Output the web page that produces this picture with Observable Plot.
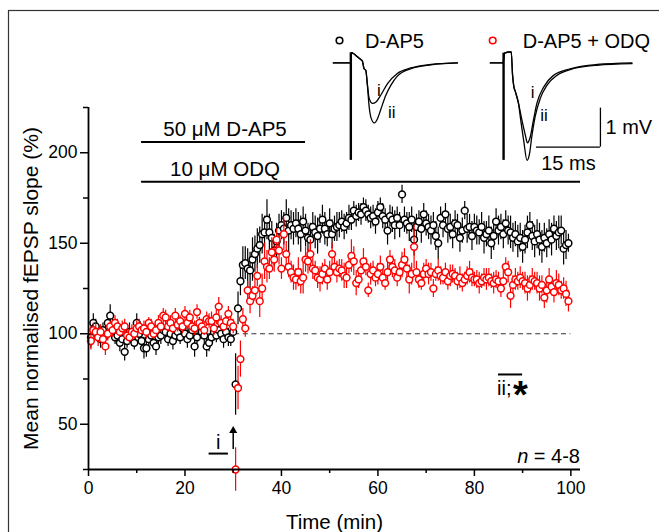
<!DOCTYPE html>
<html><head><meta charset="utf-8">
<script src="https://cdn.jsdelivr.net/npm/d3@7"></script>
<script src="https://cdn.jsdelivr.net/npm/@observablehq/plot@0.6"></script>
<style>
body{margin:0;background:#fff;overflow:hidden;}
#wrap{position:relative;width:659px;height:532px;overflow:hidden;}
#wrap svg{position:absolute;overflow:visible;}
</style></head><body><div id="wrap"></div>
<script>
// ---------- DATA ----------
const firstTime = 0.5, timeStep = 0.5; // min, sampling grid
const blackMean = [
98,106,104,100,97,102,99,106,110,104,
98,99,95,97,90,96,101,98,95,106,
100,96,92,92,97,99,95,93,98,99,
102,101,97,100,96,99,101,98,103,100,
97,99,102,93,98,104,101,99,93,95,
98,101,99,102,100,97,101,98,97,101,
72,114,129,138,139,136,135,141,144,147,
149,155,156,163,156,153,146,151,157,160,
158,164,157,160,158,161,158,155,162,157,
153,152,159,156,154,158,163,158,155,161,
155,158,159,160,162,159,161,164,163,168,
165,167,166,170,168,166,164,165,162,167,
170,165,163,157,165,163,160,164,160,177,
163,161,159,163,152,159,162,158,166,161,
159,157,160,154,150,164,160,166,158,159,
155,161,160,153,157,168,158,159,154,159,
157,156,159,153,155,157,150,154,162,157,
159,155,161,157,156,153,155,151,153,148,
152,156,160,154,151,155,152,148,153,150,
155,152,158,154,156,157,147,149,150];
const blackSem = [
6,5,4,5,5,4,5,4,6,5,
4,5,5,4,5,4,5,5,4,5,
4,5,6,5,4,5,4,5,4,5,
4,5,4,5,5,4,5,4,5,4,
5,4,5,6,4,5,4,5,6,5,
4,5,4,5,4,5,4,5,4,5,
17,9,8,10,9,11,10,12,10,11,
10,11,9,11,10,9,9,10,9,8,
9,10,12,8,9,8,9,10,8,9,
8,9,8,9,10,8,8,9,7,8,
8,7,8,7,6,7,6,7,6,5,
6,5,6,5,6,5,6,6,7,6,
5,7,6,8,6,7,8,6,7,5,
7,6,8,7,9,7,6,8,6,7,
7,8,7,8,9,6,7,6,8,7,
8,7,6,8,7,5,8,7,8,7,
8,7,8,9,7,8,9,8,7,8,
7,8,7,8,9,8,7,9,8,9,
8,9,7,8,9,8,9,9,8,8,
8,9,7,8,9,8,9,8,5];
const redMean = [
96,102,101,98,101,97,93,100,104,102,
106,104,101,103,104,99,98,101,100,103,
104,102,103,101,106,104,100,102,106,104,
110,109,104,106,103,110,105,107,104,111,
106,109,104,103,112,106,104,102,108,107,
107,103,109,115,106,104,107,111,106,104,
25,70,86,108,103,124,118,121,124,132,
118,125,140,137,136,145,141,152,146,136,
155,144,137,134,131,130,134,129,131,141,
140,144,136,135,131,130,133,136,130,134,
144,137,134,136,135,132,131,138,143,140,
128,130,135,140,137,124,133,135,131,133,
137,131,128,134,141,137,135,131,134,138,
141,136,130,133,148,134,130,128,133,136,
133,134,125,133,135,132,131,134,129,132,
133,132,129,131,128,130,132,134,131,130,
130,128,129,131,130,131,129,128,130,129,
125,129,137,134,121,127,130,129,131,129,
128,125,127,130,129,128,125,127,120,124,
130,126,123,128,127,124,125,122,118];
const redSem = [
5,4,4,5,4,4,5,4,3,4,
4,4,3,4,4,3,4,4,3,4,
4,3,4,4,3,4,3,4,4,3,
4,4,3,4,3,4,4,3,4,4,
4,4,3,4,4,3,4,3,4,4,
5,4,4,5,4,3,4,4,3,4,
12,12,10,6,5,5,7,5,6,6,
9,8,10,9,6,8,7,6,8,6,
9,7,6,6,7,6,8,7,9,7,
7,8,6,5,6,7,6,5,6,6,
6,5,6,5,6,7,6,5,9,8,
7,5,6,7,5,4,6,5,5,6,
6,5,4,6,5,6,6,5,4,7,
6,5,8,6,12,6,5,4,6,5,
6,5,5,4,6,5,4,5,5,6,
5,4,5,6,5,4,5,6,5,4,
5,6,4,5,6,5,4,6,5,5,
5,6,5,6,7,5,6,5,6,5,
6,7,5,6,5,6,7,5,6,7,
6,5,6,7,6,5,6,7,6];

const seriesNames = ["D-AP5", "D-AP5 + ODQ"];
const xMajorTicks = [0, 20, 40, 60, 80, 100];
const xMinorTicks = [10, 30, 50, 70, 90];
const yMajorTicks = [50, 100, 150, 200];
const yMinorTicks = [25, 75, 125, 175, 225];
const xLabel = "Time (min)";
const yLabel = "Mean normalised fEPSP slope (%)";

const drugNames = ["50 \u03bcM D-AP5", "10 \u03bcM ODQ"];
const drugStart = [11, 11];
const drugEnd = [45, 102];

const windowNames = ["i", "ii"];
const windowStart = [25, 85];
const windowEnd = [29, 90];
const tetanusTime = 30;
const baselineLevel = 100;
const nText = "= 4-8";

// example traces (ms, mV relative to baseline)
const leftTi  = [-4.1,-0.1,0.15,0.6,1.6,2.3,2.7,3.1,3.5,3.9,4.3,5.1,5.9,7.0,8.6,10.9,14.1,18.8,25];
const leftVi  = [0,0,0.26,0.24,0.15,0.09,0.05,-0.15,-0.19,-0.57,-0.91,-1.04,-1.0,-0.83,-0.53,-0.27,-0.13,-0.04,0];
const leftTii = [-4.1,-0.1,0.15,0.6,1.6,2.3,2.7,3.1,3.5,3.9,4.3,4.8,5.5,6.25,7.0,8.2,9.4,10.9,14.1,18.8,25];
const leftVii = [0,0,0.26,0.24,0.15,0.09,0.05,-0.15,-0.19,-0.6,-1.13,-1.43,-1.54,-1.43,-1.2,-0.83,-0.57,-0.34,-0.15,-0.05,0];
const rightTi  = [-3.1,-0.1,0.2,1.5,1.8,2.1,2.4,2.8,3.5,4.3,5.1,5.6,6.25,7.0,7.8,9.4,11.7,15.6,21.9,30.1];
const rightVi  = [0,0,0.25,0.28,0.28,-0.3,-0.6,-0.75,-1.04,-1.47,-1.85,-2.05,-1.9,-1.47,-1.04,-0.62,-0.32,-0.15,-0.04,0];
const rightTii = [-3.1,-0.1,0.2,1.5,1.8,2.1,2.4,2.8,3.5,4.0,4.7,5.5,6.1,6.6,7.4,8.6,10.2,12.5,15.6,21.9,30.1];
const rightVii = [0,0,0.25,0.28,0.28,-0.3,-0.6,-0.75,-1.04,-1.45,-1.98,-2.5,-2.32,-1.9,-1.38,-0.91,-0.57,-0.32,-0.17,-0.06,-0.02];
const artifactMin = -2.5, artifactMaxL = 0.26, artifactMaxR = 0.25;
const scaleBarMs = 15, scaleBarMv = 1;

// ---------- BUILD ----------
const FONT = '"Liberation Sans", Arial, Helvetica, sans-serif';
const RED = "#ff0000";
const times = blackMean.map((_, i) => firstTime + i * timeStep);
const black = times.map((t, i) => ({t, m: blackMean[i], e: blackSem[i]}));
const red = times.map((t, i) => ({t, m: redMean[i], e: redSem[i]}));
const drugs = drugNames.map((name, i) => ({name, s: drugStart[i], e: drugEnd[i]}));
const windows = windowNames.map((name, i) => ({name, s: windowStart[i], e: windowEnd[i]}));
const drugBarY = [206, 184];
const windowBarY = [33.8, 77.5];

const main = Plot.plot({
  width: 659, height: 532,
  marginLeft: 88, marginRight: 79, marginTop: 107, marginBottom: 63,
  x: {domain: [0, 102]},
  y: {domain: [25, 225]},
  style: {fontFamily: FONT, fontSize: "17.5px", color: "black", background: "transparent", overflow: "visible"},
  marks: [
    Plot.ruleY([baselineLevel], {x1: 0, x2: 100, stroke: "#333", strokeWidth: 1.2, strokeDasharray: "5,3.6"}),
    Plot.ruleX(black, {x: "t", y1: d => d.m - d.e, y2: d => d.m + d.e, stroke: "black", strokeWidth: 1.2}),
    Plot.dot(black, {x: "t", y: "m", r: 3.4, stroke: "black", fill: "white", strokeWidth: 1.5}),
    Plot.ruleX(red, {x: "t", y1: d => d.m - d.e, y2: d => d.m + d.e, stroke: RED, strokeWidth: 1.2}),
    Plot.dot(red, {x: "t", y: "m", r: 3.4, stroke: RED, fill: "white", strokeWidth: 1.5}),
    // drug bars
    Plot.ruleY(drugs, {x1: "s", x2: "e", y: (d, i) => drugBarY[i], stroke: "black", strokeWidth: 2}),
    Plot.text(drugs, {x: 28.3, y: (d, i) => drugBarY[i], text: "name", lineAnchor: "bottom", dy: -6, fontSize: 20.5}),
    // sample windows
    Plot.ruleY(windows, {x1: "s", x2: "e", y: (d, i) => windowBarY[i], stroke: "black", strokeWidth: 2}),
    // tetanus arrow
    Plot.ruleX([tetanusTime], {y1: 36, y2: 45, stroke: "black", strokeWidth: 1.5}),
    Plot.dot([tetanusTime], {x: d => d, y: 46.5, symbol: "triangle", r: 3, fill: "black", stroke: "none"}),
    // axes
    Plot.ruleY([25], {stroke: "black", strokeWidth: 1.8}),
    Plot.ruleX([0], {stroke: "black", strokeWidth: 1.8}),
    Plot.axisX({ticks: xMajorTicks, tickSize: 7, tickPadding: 5, label: null, strokeWidth: 1.5}),
    Plot.axisX({ticks: xMinorTicks, tickSize: 4, tickFormat: () => "", label: null, strokeWidth: 1.5}),
    Plot.axisY({ticks: yMajorTicks, tickSize: 8, tickPadding: 3, label: null, strokeWidth: 1.5}),
    Plot.axisY({ticks: yMinorTicks, tickSize: 5, tickFormat: () => "", label: null, strokeWidth: 1.5}),
    Plot.text([xLabel], {frameAnchor: "bottom", dy: 59, lineAnchor: "bottom", textAnchor: "middle", fontSize: 20.5}),
    Plot.text([yLabel], {frameAnchor: "left", dx: -50.5, rotate: -90, lineAnchor: "bottom", textAnchor: "middle", fontSize: 21})
  ]
});
main.style.left = "0px"; main.style.top = "0px";
document.getElementById("wrap").appendChild(main);

const sx = main.scale("x"), sy = main.scale("y");
const svg = d3.select(main);
// frame
svg.insert("rect", ":first-child").attr("x", 8.5).attr("y", 10.5).attr("width", 700).attr("height", 600)
  .attr("fill", "none").attr("stroke", "#333").attr("stroke-width", 1.2);
const g = svg.append("g").attr("font-family", FONT).attr("fill", "black").attr("text-anchor", "start");
// window labels
g.append("text").attr("x", sx.apply((windowStart[0] + windowEnd[0]) / 2)).attr("y", sy.apply(windowBarY[0]) - 4)
  .attr("text-anchor", "middle").attr("font-size", 20).text(windowNames[0]);
g.append("text").attr("x", sx.apply(windowStart[1]) - 1).attr("y", sy.apply(windowBarY[1]) + 21)
  .attr("text-anchor", "start").attr("font-size", 20).text(windowNames[1] + ";");
g.append("text").attr("x", sx.apply(windowStart[1]) + 15).attr("y", sy.apply(windowBarY[1]) + 34)
  .attr("text-anchor", "start").attr("font-size", 38).attr("font-weight", "bold").text("*");
// n text
const nt = g.append("text").attr("x", sx.apply(102)).attr("y", sy.apply(25) - 6).attr("text-anchor", "end").attr("font-size", 20);
nt.append("tspan").attr("font-style", "italic").text("n");
nt.append("tspan").text(" " + nText);
// legend
const leg = [{x: 339.5, c: "black", name: seriesNames[0], tx: 365}, {x: 492.7, c: RED, name: seriesNames[1], tx: 522.7}];
leg.forEach(l => {
  g.append("circle").attr("cx", l.x).attr("cy", 40.5).attr("r", 3.3).attr("fill", "none").attr("stroke", l.c).attr("stroke-width", 1.6);
  g.append("text").attr("x", l.tx).attr("y", 48.3).attr("text-anchor", "start").attr("font-size", 20).text(l.name);
});

// ---------- INSET TRACES ----------
const PXMS = 4.267, PXMV = 39;
function trace(tI, vI, tII, vII, artMax, xDomain, left, extra) {
  const w = (xDomain[1] - xDomain[0]) * PXMS, yDomain = [-2.9, 0.6];
  const h = (yDomain[1] - yDomain[0]) * PXMV;
  const A = tI.map((t, i) => ({t, v: vI[i]}));
  const B = tII.map((t, i) => ({t, v: vII[i]}));
  const p = Plot.plot({
    width: w, height: h, margin: 0,
    x: {domain: xDomain, range: [0, w], axis: null},
    y: {domain: yDomain, range: [h, 0], axis: null},
    style: {fontFamily: FONT, background: "transparent", overflow: "visible"},
    marks: [
      Plot.ruleX([0], {y1: artifactMin, y2: artMax, stroke: "black", strokeWidth: 2.4}),
      Plot.line(A, {x: "t", y: "v", stroke: "black", strokeWidth: 1.3, curve: "monotone-x"}),
      Plot.line(B, {x: "t", y: "v", stroke: "black", strokeWidth: 1.3, curve: "monotone-x"}),
      ...extra
    ]
  });
  p.style.left = left + "px"; p.style.top = "39.3px";
  document.getElementById("wrap").appendChild(p);
}
trace(leftTi, leftVi, leftTii, leftVii, artifactMaxL, [-5, 26], 328.7, [
  Plot.text([windowNames[0]], {x: 6.6, y: -0.7, fontSize: 17, lineAnchor: "middle"}),
  Plot.text([windowNames[1]], {x: 9.6, y: -1.28, fontSize: 17, lineAnchor: "middle"})
]);
const sbX = 22.7, sbY = -2.16;
trace(rightTi, rightVi, rightTii, rightVii, artifactMaxR, [-4, 33], 486.2, [
  Plot.text([windowNames[0]], {x: 6.8, y: -0.75, fontSize: 17, lineAnchor: "middle"}),
  Plot.text([windowNames[1]], {x: 9.5, y: -1.36, fontSize: 17, lineAnchor: "middle"}),
  Plot.ruleX([sbX], {y1: sbY, y2: sbY + scaleBarMv, stroke: "black", strokeWidth: 1.3}),
  Plot.ruleY([sbY], {x1: sbX - scaleBarMs, x2: sbX, stroke: "black", strokeWidth: 1.3}),
  Plot.text([scaleBarMv + " mV"], {x: sbX + 1.2, y: sbY + scaleBarMv / 2, textAnchor: "start", lineAnchor: "middle", fontSize: 20}),
  Plot.text([scaleBarMs + " ms"], {x: sbX - scaleBarMs / 2, y: -2.58, lineAnchor: "middle", fontSize: 20})
]);
</script></body></html>
